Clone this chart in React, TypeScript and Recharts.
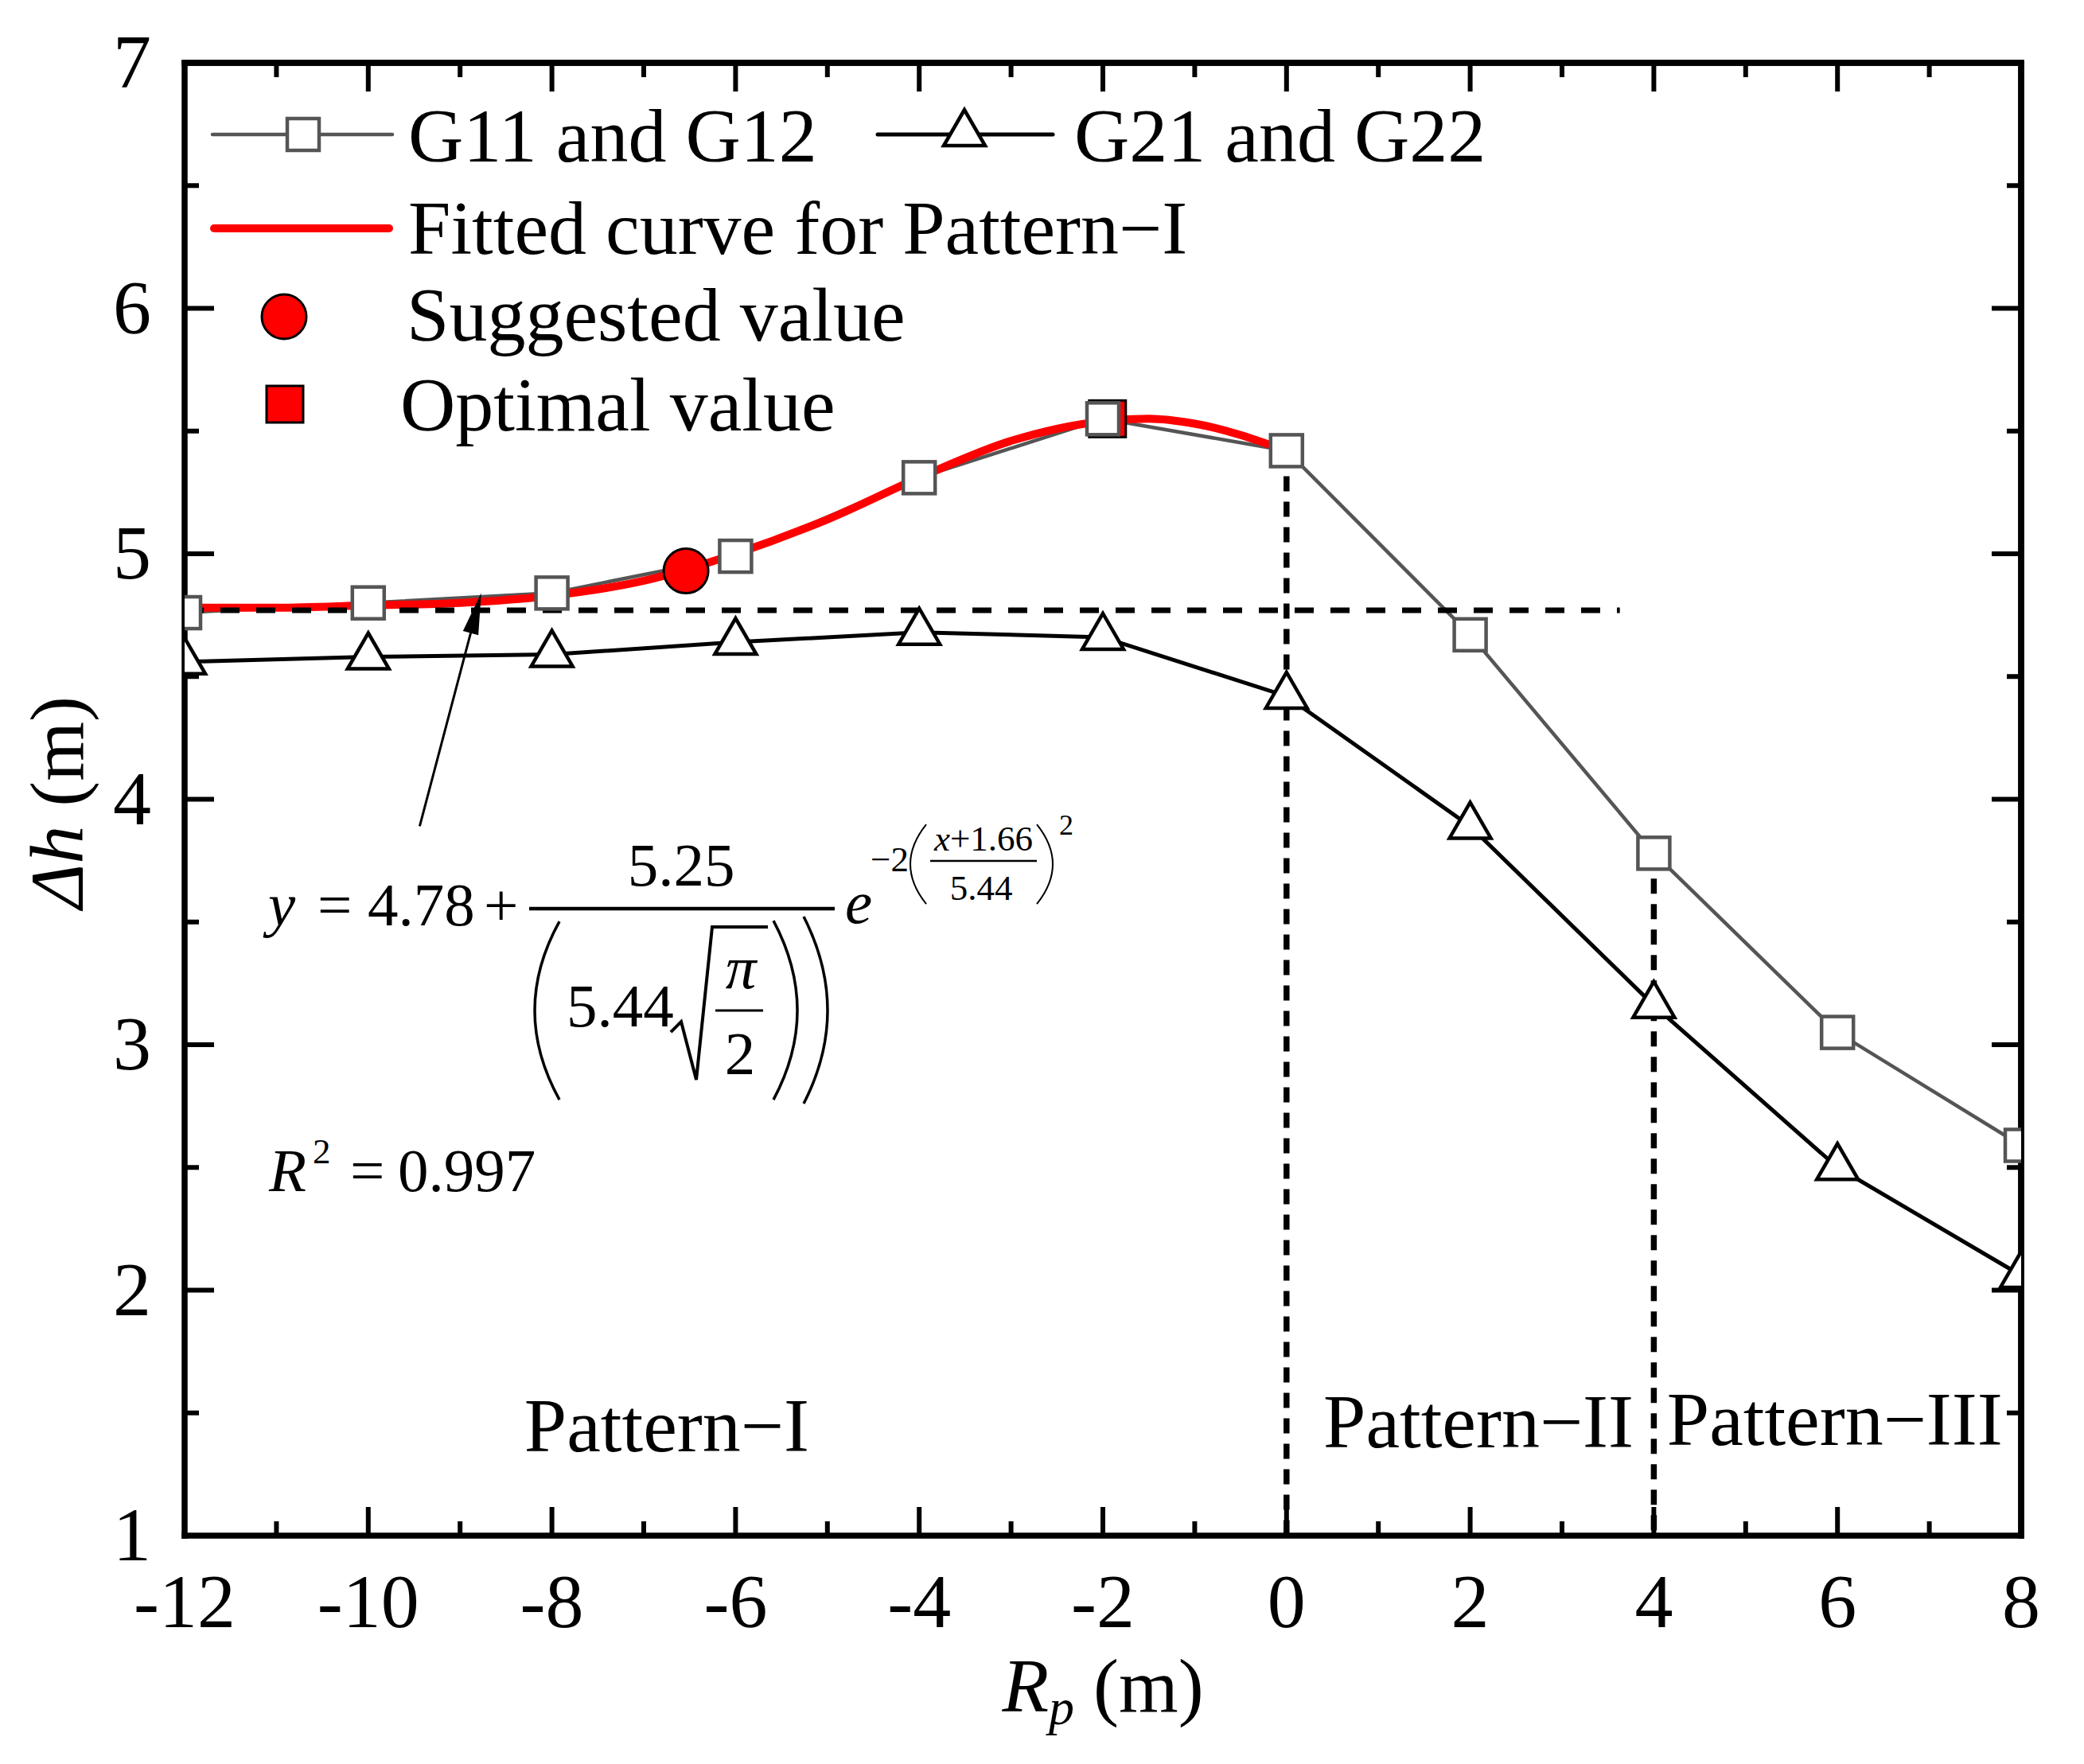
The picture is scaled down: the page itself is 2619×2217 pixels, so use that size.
import React from 'react';
import {
  ComposedChart,
  Line,
  Scatter,
  XAxis,
  YAxis,
  ReferenceLine,
  ReferenceDot,
  Legend,
} from 'recharts';

const FONT = '"Liberation Serif", "Times New Roman", serif';

// measured points, Rp (m)
const rpValues = [-12, -10, -8, -6, -4, -2, 0, 2, 4, 6, 8];
const g11Values = [4.76, 4.8, 4.84, 4.99, 5.31, 5.55, 5.42, 4.67, 3.78, 3.05, 2.59];
const g21Values = [4.56, 4.58, 4.59, 4.64, 4.68, 4.66, 4.42, 3.89, 3.16, 2.5, 2.06];

// red fitted curve (Pattern-I range only)
const fitX = [-12, -11, -10, -9, -8, -7, -6, -5, -4, -3, -2, -1.5, -1, 0];
const fitY = [4.78, 4.78, 4.79, 4.8, 4.83, 4.89, 5.0, 5.14, 5.31, 5.46, 5.54, 5.55, 5.53, 5.42];

const suggestedX = [-6.54];
const suggestedY = [4.93];
const optimalX = [-1.95];
const optimalY = [5.55];

const xTicks = [-12, -11, -10, -9, -8, -7, -6, -5, -4, -3, -2, -1, 0, 1, 2, 3, 4, 5, 6, 7, 8];
const yTicks = [1, 1.5, 2, 2.5, 3, 3.5, 4, 4.5, 5, 5.5, 6, 6.5, 7];

const legendNames = ['G11 and G12', 'G21 and G22', 'Fitted curve for Pattern\u2212I', 'Suggested value', 'Optimal value'];
const patternNames = ['Pattern\u2212I', 'Pattern\u2212II', 'Pattern\u2212III'];

// annotation anchors (data coordinates)
const patternX = [-6.75, 2.09, 5.97];
const patternY = [1.345, 1.36, 1.37];
const baseLevel = 4.77;
const baseLevelEnd = 3.63;
const dividerX = [0, 4];
const dividerTop = [5.42, 3.78];
const arrowFrom = { x: -9.44, y: 3.89 };
const arrowTo = { x: -8.77, y: 4.84 };
const eqAnchor = { x: -11.09, y: 3.486 };

const g11Data = rpValues.map((x, i) => ({ x, y: g11Values[i] }));
const g21Data = rpValues.map((x, i) => ({ x, y: g21Values[i] }));
const fitData = fitX.map((x, i) => ({ x, y: fitY[i] }));
const suggestedData = suggestedX.map((x, i) => ({ x, y: suggestedY[i] }));
const optimalData = optimalX.map((x, i) => ({ x, y: optimalY[i] }));

const GRAY = '#555555';
const serif = { fontFamily: FONT };

const SquareDot = (p: any) => {
  const { cx, cy, index } = p;
  if (cx == null || cy == null) return <g key={`sq-${index}`} />;
  return (
    <rect key={`sq-${index}`} x={cx - 20} y={cy - 20} width={40} height={40}
      fill="#fff" stroke={GRAY} strokeWidth={4.5} />
  );
};

const triPoints = (cx: number, cy: number) => {
  const h = 45;
  const w = 52;
  return `${cx},${cy - (2 * h) / 3} ${cx - w / 2},${cy + h / 3} ${cx + w / 2},${cy + h / 3}`;
};

const TriDot = (p: any) => {
  const { cx, cy, index } = p;
  if (cx == null || cy == null) return <g key={`tr-${index}`} />;
  return (
    <polygon key={`tr-${index}`} points={triPoints(cx, cy)}
      fill="#fff" stroke="#000" strokeWidth={4.5} />
  );
};

const BottomTick = (p: any) => {
  const { x, y, payload } = p;
  const v = payload.value;
  const major = v % 2 === 0;
  return (
    <g>
      <line x1={x} x2={x} y1={y} y2={y - (major ? 36 : 18)} stroke="#000" strokeWidth={6} />
      {major && (
        <text x={x} y={y + 115} textAnchor="middle" fontSize={96} style={serif} fill="#000">
          {v}
        </text>
      )}
    </g>
  );
};

const TopTick = (p: any) => {
  const { x, payload } = p;
  const major = payload.value % 2 === 0;
  return <line x1={x} x2={x} y1={79} y2={79 + (major ? 36 : 18)} stroke="#000" strokeWidth={6} />;
};

const LeftTick = (p: any) => {
  const { x, y, payload } = p;
  const v = payload.value;
  const major = Number.isInteger(v);
  return (
    <g>
      <line x1={x} x2={x + (major ? 37 : 18)} y1={y} y2={y} stroke="#000" strokeWidth={6} />
      {major && (
        <text x={x - 42} y={y + 31} textAnchor="end" fontSize={96} style={serif} fill="#000">
          {v}
        </text>
      )}
    </g>
  );
};

const RightTick = (p: any) => {
  const { y, payload } = p;
  const major = Number.isInteger(payload.value);
  return <line x1={2540} x2={2540 - (major ? 37 : 18)} y1={y} y2={y} stroke="#000" strokeWidth={6} />;
};

const XTitle = (p: any) => {
  const vb = p.viewBox && p.viewBox.width ? p.viewBox : { x: 232, y: 1930, width: 2308, height: 287 };
  const cx = vb.x + vb.width / 2;
  return (
    <text x={cx} y={vb.y + 221} textAnchor="middle" fontSize={96} style={serif} fill="#000">
      <tspan fontStyle="italic">R</tspan>
      <tspan fontStyle="italic" fontSize={64} dy={16}>p</tspan>
      <tspan dy={-16}> (m)</tspan>
    </text>
  );
};

const YTitle = (p: any) => {
  const vb = p.viewBox && p.viewBox.height ? p.viewBox : { x: 0, y: 79, width: 232, height: 1851 };
  const cy = vb.y + vb.height / 2 + 4;
  const x = 104;
  return (
    <text transform={`rotate(-90, ${x}, ${cy})`} x={x} y={cy} textAnchor="middle"
      fontSize={96} style={serif} fill="#000">
      <tspan fontStyle="italic">{'\u0394h'}</tspan>
      <tspan> (m)</tspan>
    </text>
  );
};

const Arrow = (p: any) => {
  const { x1, y1, x2, y2 } = p;
  const dx = x2 - x1;
  const dy = y2 - y1;
  const len = Math.sqrt(dx * dx + dy * dy);
  const ux = dx / len;
  const uy = dy / len;
  const head = 52;
  const half = 10;
  const bx = x2 - ux * head;
  const by = y2 - uy * head;
  return (
    <g>
      <line x1={x1} y1={y1} x2={bx + ux * 4} y2={by + uy * 4} stroke="#000" strokeWidth={3} />
      <polygon
        points={`${x2},${y2} ${bx - uy * half},${by + ux * half} ${bx + uy * half},${by - ux * half}`}
        fill="#000" />
    </g>
  );
};

const Equation = (p: any) => {
  const { cx, cy } = p;
  const fs = 77;
  const fsS = 45;
  const k = { fill: 'none', stroke: '#000' };
  const T = (props: any) => <text style={serif} fill="#000" {...props} />;
  return (
    <g transform={`translate(${cx},${cy})`}>
      <T x={0} y={0} fontSize={fs} fontStyle="italic">y</T>
      <T x={62} y={0} fontSize={fs}>=</T>
      <T x={125} y={0} fontSize={fs}>4.78</T>
      <T x={271} y={0} fontSize={fs}>+</T>
      <line x1={328} x2={712} y1={-21} y2={-21} stroke="#000" strokeWidth={4.5} />
      <T x={519} y={-50} fontSize={fs} textAnchor="middle">5.25</T>
      <path d="M 366 -5 Q 304 107 366 219" {...k} strokeWidth={3.5} />
      <T x={375} y={127} fontSize={fs}>5.44</T>
      <path d="M 506 134 L 519 121 L 538 194 L 558 2 L 628 2" {...k} strokeWidth={4} />
      <T x={594} y={79} fontSize={fs} fontStyle="italic" textAnchor="middle">{'\u03c0'}</T>
      <line x1={562} x2={622} y1={107} y2={107} stroke="#000" strokeWidth={3} />
      <T x={593} y={187} fontSize={fs} textAnchor="middle">2</T>
      <path d="M 635 -6 Q 695 107 635 219" {...k} strokeWidth={3.5} />
      <path d="M 673 -11 Q 733 107 673 224" {...k} strokeWidth={3.5} />
      <T x={725} y={-3} fontSize={fs} fontStyle="italic">e</T>
      <T x={757} y={-68} fontSize={fsS}>{'\u22122'}</T>
      <path d="M 827 -127 Q 787 -77 827 -27" {...k} strokeWidth={2} />
      <T x={899} y={-94} fontSize={fsS} textAnchor="middle">
        <tspan fontStyle="italic">x</tspan>+1.66
      </T>
      <line x1={832} x2={966} y1={-81} y2={-81} stroke="#000" strokeWidth={2.5} />
      <T x={896} y={-32} fontSize={fsS} textAnchor="middle">5.44</T>
      <path d="M 966 -127 Q 1006 -77 966 -27" {...k} strokeWidth={2} />
      <T x={994} y={-114} fontSize={36}>2</T>

      <T x={1} y={334} fontSize={fs} fontStyle="italic">R</T>
      <T x={56} y={299} fontSize={fsS}>2</T>
      <T x={103} y={334} fontSize={fs}>=</T>
      <T x={163} y={334} fontSize={fs}>0.997</T>
    </g>
  );
};

const LegendBox = () => (
  <svg width={2619} height={560} style={{ display: 'block', overflow: 'visible', fontFamily: FONT }}>
    <line x1={267} y1={169} x2={493} y2={169} stroke={GRAY} strokeWidth={4.5} strokeLinecap="round" />
    <rect x={361} y={149} width={40} height={40} fill="#fff" stroke={GRAY} strokeWidth={4.5} />
    <text x={513} y={203} fontSize={96} style={serif} fill="#000">{legendNames[0]}</text>

    <line x1={1103} y1={169} x2={1323} y2={169} stroke="#000" strokeWidth={5} strokeLinecap="round" />
    <polygon points={triPoints(1212, 168)} fill="#fff" stroke="#000" strokeWidth={4.5} />
    <text x={1350} y={203} fontSize={96} style={serif} fill="#000">{legendNames[1]}</text>

    <line x1={269} y1={287} x2={489} y2={287} stroke="#ff0000" strokeWidth={10} strokeLinecap="round" />
    <text x={513} y={319} fontSize={96} style={serif} fill="#000">{legendNames[2]}</text>

    <circle cx={357} cy={398} r={28} fill="#ff0000" stroke="#000" strokeWidth={3} />
    <text x={511} y={428} fontSize={96} style={serif} fill="#000">{legendNames[3]}</text>

    <rect x={335} y={485} width={46} height={46} fill="#ff0000" stroke="#000" strokeWidth={3} />
    <text x={503} y={541} fontSize={96} style={serif} fill="#000">{legendNames[4]}</text>
  </svg>
);

const axisLine = { stroke: '#000', strokeWidth: 7.5, strokeLinecap: 'square' as const };

export default function App() {
  return (
    <div style={{ position: 'absolute', left: 0, top: 0, width: 2619, height: 2217, background: '#fff' }}>
      <ComposedChart width={2619} height={2217} margin={{ top: 78, right: 78, bottom: 0, left: 0 }}>
        <XAxis
          dataKey="x"
          type="number"
          domain={[-12, 8]}
          ticks={xTicks}
          interval={0}
          allowDataOverflow
          height={287}
          tickSize={0}
          tickMargin={0}
          tickLine={false}
          axisLine={axisLine}
          tick={BottomTick}
          label={<XTitle />}
        />
        <XAxis
          xAxisId="top"
          orientation="top"
          dataKey="x"
          type="number"
          domain={[-12, 8]}
          ticks={xTicks}
          interval={0}
          allowDataOverflow
          height={1}
          tickSize={0}
          tickMargin={0}
          tickLine={false}
          axisLine={axisLine}
          tick={TopTick}
        />
        <YAxis
          type="number"
          domain={[1, 7]}
          ticks={yTicks}
          interval={0}
          allowDataOverflow
          width={232}
          tickSize={0}
          tickMargin={0}
          tickLine={false}
          axisLine={axisLine}
          tick={LeftTick}
          label={<YTitle />}
        />
        <YAxis
          yAxisId="right"
          orientation="right"
          type="number"
          domain={[1, 7]}
          ticks={yTicks}
          interval={0}
          allowDataOverflow
          width={1}
          tickSize={0}
          tickMargin={0}
          tickLine={false}
          axisLine={axisLine}
          tick={RightTick}
        />

        <Line data={g21Data} dataKey="y" type="linear" stroke="#000" strokeWidth={5}
          dot={TriDot} activeDot={false} isAnimationActive={false} />
        <Line data={g11Data} dataKey="y" type="linear" stroke={GRAY} strokeWidth={4.5}
          dot={SquareDot} activeDot={false} isAnimationActive={false} />
        <Line data={fitData} dataKey="y" type="monotone" stroke="#ff0000" strokeWidth={10}
          dot={false} activeDot={false} isAnimationActive={false} />

        <ReferenceLine segment={[{ x: -12, y: baseLevel }, { x: baseLevelEnd, y: baseLevel }]}
          stroke="#000" strokeWidth={7} strokeDasharray="24 21" />
        {dividerX.map((dx, i) => (
          <ReferenceLine key={`div-${dx}`} segment={[{ x: dx, y: dividerTop[i] }, { x: dx, y: 1 }]}
            stroke="#000" strokeWidth={7.5} strokeDasharray="19 13" />
        ))}

        {/* frame on top and right */}
        <ReferenceLine y={7} stroke="#000" strokeWidth={7.5} ifOverflow="visible" />
        <ReferenceLine x={8} stroke="#000" strokeWidth={7.5} ifOverflow="visible" />

        <Scatter data={suggestedData} dataKey="y" isAnimationActive={false}
          shape={(p: any) => <circle cx={p.cx} cy={p.cy} r={28} fill="#ff0000" stroke="#000" strokeWidth={3} />} />
        <Scatter data={optimalData} dataKey="y" isAnimationActive={false}
          shape={(p: any) => <rect x={p.cx - 23} y={p.cy - 23} width={46} height={46} fill="#ff0000" stroke="#000" strokeWidth={3} />} />

        <ReferenceLine segment={[arrowFrom, arrowTo]} stroke="#000" shape={Arrow} />
        <ReferenceDot x={eqAnchor.x} y={eqAnchor.y} r={0} ifOverflow="visible" shape={Equation} />

        {patternNames.map((name, i) => (
          <ReferenceDot key={name} x={patternX[i]} y={patternY[i]} r={0} ifOverflow="visible"
            shape={(p: any) => (
              <text x={p.cx} y={p.cy} textAnchor="middle" fontSize={96} style={serif} fill="#000">
                {name}
              </text>
            )} />
        ))}

        <Legend content={LegendBox} layout="vertical" align="center" verticalAlign="middle"
          wrapperStyle={{ left: 0, top: 0, width: 2619, height: 560, margin: 0, lineHeight: 0 }} />
      </ComposedChart>
    </div>
  );
}
